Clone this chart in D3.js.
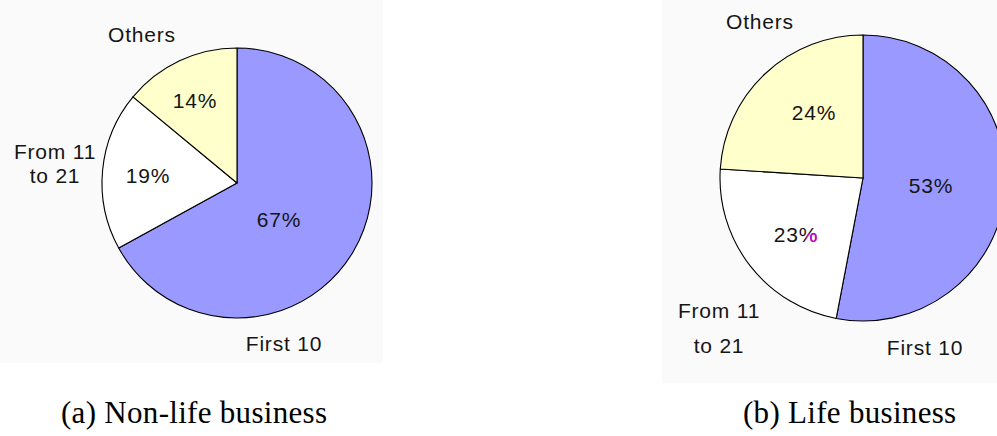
<!DOCTYPE html>
<html>
<head>
<meta charset="utf-8">
<script src="https://cdn.jsdelivr.net/npm/d3@7/dist/d3.min.js"></script>
<style>
  html, body { margin: 0; padding: 0; background: #ffffff; }
  svg { display: block; }
  .cat, .pct { font-family: "Liberation Sans", Arial, sans-serif; font-size: 21px; fill: #151515; letter-spacing: 0.8px; }
  .caption { font-family: "Liberation Serif", "Times New Roman", serif; font-size: 31px; fill: #000; letter-spacing: 0.3px; }
</style>
</head>
<body>
<script>
// Market share of insurers, grouped by rank
const categories = ["First 10", "From 11\nto 21", "Others"];
const nonLifeShares = [67, 19, 14];
const lifeShares = [53, 23, 24];
const captions = ["(a) Non-life business", "(b) Life business"];
const sliceColors = ["#9999ff", "#ffffff", "#ffffcc"];

const W = 997, H = 436;
const svg = d3.select("body").append("svg").attr("width", W).attr("height", H);

// Panel geometry and label offsets (relative to each pie centre; y values are baselines)
const panels = [
  {
    values: nonLifeShares, caption: captions[0],
    plate: [0, 0, 383, 363], cx: 237, cy: 183, r: 135,
    captionX: 61,
    pctPos: [[42, 44], [-89, 0], [-42, -75]],
    catPos: [[47, 168, 24], [-182, -24, 24], [-95, -141, 24]]
  },
  {
    values: lifeShares, caption: captions[1],
    plate: [662, 0, 335, 383], cx: 863, cy: 178, r: 143,
    captionX: 743,
    pctPos: [[68, 15], [-67, 64], [-49, -58]],
    catPos: [[62, 177, 35], [-144, 140, 35], [-103, -149, 35]]
  }
];

const pie = d3.pie().sort(null).value(d => d);

panels.forEach(p => {
  const g = svg.append("g");

  g.append("rect")
    .attr("x", p.plate[0]).attr("y", p.plate[1])
    .attr("width", p.plate[2]).attr("height", p.plate[3])
    .attr("fill", "#fafafa");

  const arc = d3.arc().innerRadius(0).outerRadius(p.r);
  const c = g.append("g").attr("transform", `translate(${p.cx},${p.cy})`);

  c.selectAll("path.slice")
    .data(pie(p.values))
    .join("path")
    .attr("class", "slice")
    .attr("d", arc)
    .attr("fill", (d, i) => sliceColors[i])
    .attr("stroke", "#000")
    .attr("stroke-width", 1.1)
    .attr("stroke-linejoin", "round");

  // percentage labels inside the slices
  p.pctTexts = c.selectAll("text.pct")
    .data(p.values)
    .join("text")
    .attr("class", "pct")
    .attr("text-anchor", "middle")
    .attr("x", (d, i) => p.pctPos[i][0])
    .attr("y", (d, i) => p.pctPos[i][1])
    .text(d => d + "%");

  // category labels around the pie
  categories.forEach((name, i) => {
    const [dx, dy, lh] = p.catPos[i];
    const t = c.append("text").attr("class", "cat").attr("text-anchor", "middle");
    name.split("\n").forEach((line, k) => {
      t.append("tspan").attr("x", dx).attr("y", dy + k * lh).text(line);
    });
  });

  svg.append("text")
    .attr("class", "caption")
    .attr("x", p.captionX)
    .attr("y", 423)
    .text(p.caption);
});

// magenta speck on the lower ring of the "%" in the life-business 23% label
(function () {
  const node = panels[1].pctTexts.nodes()[1];
  const s = node.textContent;
  const idx = s.indexOf("%");
  const box = node.getExtentOfChar(idx);
  const parent = d3.select(node.parentNode);
  const clipId = "pctClip";
  svg.append("defs").append("clipPath").attr("id", clipId)
    .append("rect")
    .attr("x", box.x + box.width * 0.4)
    .attr("y", box.y + box.height * 0.45)
    .attr("width", box.width * 0.7)
    .attr("height", box.height * 0.6);
  parent.append("text")
    .attr("class", "pct")
    .attr("text-anchor", "middle")
    .attr("x", node.getAttribute("x"))
    .attr("y", node.getAttribute("y"))
    .attr("clip-path", `url(#${clipId})`)
    .style("fill", "#e000e0")
    .text(s);
})();
</script>
</body>
</html>
